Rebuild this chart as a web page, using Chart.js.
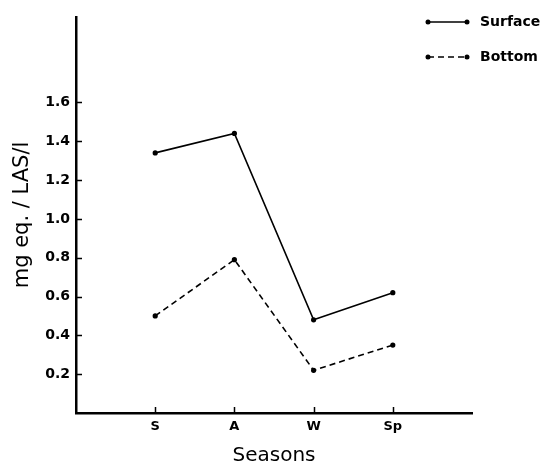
<!DOCTYPE html>
<html><head><meta charset="utf-8">
<script src="https://cdn.jsdelivr.net/npm/chart.js@4"></script>
<style>html,body{margin:0;padding:0;background:#fff}</style>
</head><body>
<canvas id="c" width="543" height="468"></canvas>
<script>
const categories = ['S', 'A', 'W', 'Sp'];
const categoryPositions = [1, 2, 3, 4];
const surface = [1.34, 1.44, 0.48, 0.62];
const bottom = [0.50, 0.79, 0.22, 0.35];
const yTicks = [0.2, 0.4, 0.6, 0.8, 1.0, 1.2, 1.4, 1.6];
const seriesNames = ['Surface', 'Bottom'];
const yTitle = 'mg eq. / LAS/l';
const xTitle = 'Seasons';

const FONT = '"DejaVu Sans", sans-serif';

const innerTicks = {
  id: 'innerTicks',
  afterDatasetsDraw(chart) {
    const {ctx, chartArea, scales} = chart;
    ctx.save();
    ctx.strokeStyle = '#000';
    ctx.lineWidth = 1.5;
    ctx.beginPath();
    yTicks.forEach(v => {
      const y = Math.round(scales.y.getPixelForValue(v)) + 0.5;
      ctx.moveTo(chartArea.left, y);
      ctx.lineTo(chartArea.left + 6, y);
    });
    categoryPositions.forEach(v => {
      const x = Math.round(scales.x.getPixelForValue(v)) + 0.5;
      ctx.moveTo(x, chartArea.bottom);
      ctx.lineTo(x, chartArea.bottom - 6);
    });
    ctx.stroke();
    ctx.restore();
  }
};

const customLegend = {
  id: 'customLegend',
  afterDraw(chart) {
    const {ctx} = chart;
    const rows = [22, 57];
    ctx.save();
    chart.data.datasets.forEach((ds, i) => {
      const y = rows[i];
      ctx.strokeStyle = '#000';
      ctx.lineWidth = 1.5;
      ctx.setLineDash(ds.borderDash || []);
      ctx.beginPath();
      ctx.moveTo(428, y);
      ctx.lineTo(467, y);
      ctx.stroke();
      ctx.setLineDash([]);
      ctx.fillStyle = '#000';
      ctx.beginPath(); ctx.arc(428, y, 2.5, 0, Math.PI * 2); ctx.fill();
      ctx.beginPath(); ctx.arc(467, y, 2.5, 0, Math.PI * 2); ctx.fill();
      ctx.font = 'bold 14px ' + FONT;
      ctx.textBaseline = 'middle';
      ctx.textAlign = 'left';
      ctx.fillText(ds.label, 480, y);
    });
    ctx.restore();
  }
};

new Chart(document.getElementById('c'), {
  type: 'line',
  data: {
    datasets: [
      {
        label: seriesNames[0],
        data: categoryPositions.map((x, i) => ({x, y: surface[i]})),
        borderColor: '#000', backgroundColor: '#000',
        borderWidth: 1.6, pointRadius: 2.6, pointBackgroundColor: '#000', pointBorderWidth: 0,
        tension: 0
      },
      {
        label: seriesNames[1],
        data: categoryPositions.map((x, i) => ({x, y: bottom[i]})),
        borderColor: '#000', backgroundColor: '#000',
        borderWidth: 1.6, borderDash: [6, 4], pointRadius: 2.6, pointBackgroundColor: '#000', pointBorderWidth: 0,
        tension: 0
      }
    ]
  },
  options: {
    responsive: false,
    animation: false,
    devicePixelRatio: 1,
    layout: {padding: {top: 17, right: 71, left: 0, bottom: 0}},
    plugins: {legend: {display: false}, tooltip: {enabled: false}},
    scales: {
      x: {
        type: 'linear', min: 0, max: 5, position: 'bottom',
        afterBuildTicks: s => { s.ticks = categoryPositions.map(v => ({value: v})); },
        afterFit: s => { s.height = 55; },
        grid: {drawOnChartArea: false, drawTicks: false},
        border: {display: true, color: '#000', width: 2.5},
        ticks: {
          color: '#000', padding: 6, maxRotation: 0, autoSkip: false,
          font: {family: FONT, size: 13, weight: 'bold'},
          callback: v => { const i = categoryPositions.indexOf(v); return i >= 0 ? categories[i] : ''; }
        },
        title: {display: true, text: xTitle, color: '#000', font: {family: FONT, size: 20}, padding: {top: 0, bottom: 0}}
      },
      y: {
        type: 'linear', min: 0, max: 2.04,
        afterBuildTicks: s => { s.ticks = yTicks.map(v => ({value: v})); },
        afterFit: s => { s.width = 76; },
        grid: {drawOnChartArea: false, drawTicks: false},
        border: {display: true, color: '#000', width: 2.5},
        ticks: {
          color: '#000', padding: 6, autoSkip: false,
          font: {family: FONT, size: 14, weight: 'bold'},
          callback: v => Number(v).toFixed(1)
        },
        title: {display: true, text: yTitle, color: '#000', font: {family: FONT, size: 21}, padding: {top: 10, bottom: 0}}
      }
    }
  },
  plugins: [innerTicks, customLegend]
});
</script>
</body></html>
